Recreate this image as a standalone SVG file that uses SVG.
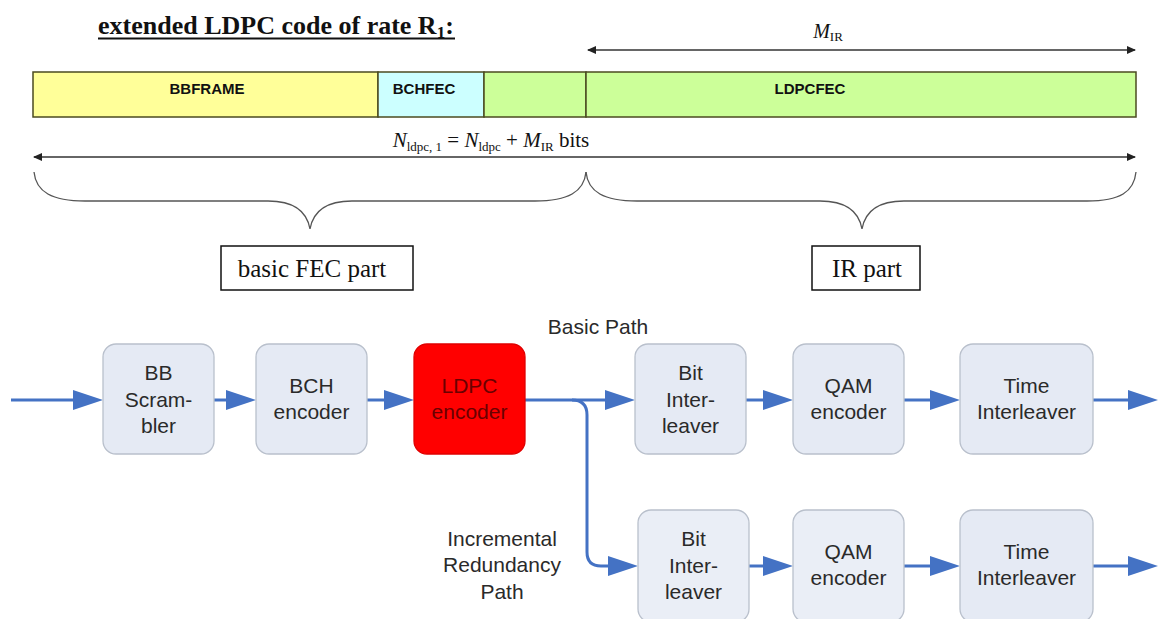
<svg xmlns="http://www.w3.org/2000/svg" width="1159" height="619" viewBox="0 0 1159 619">
<defs>
<style>
.serif{font-family:"Liberation Serif","Times New Roman",serif;fill:#111}
.seg{stroke:#4b4b20;stroke-width:1.5}
.barlbl{font-family:"Liberation Sans",Arial,sans-serif;font-weight:bold;font-size:15px;fill:#111;text-anchor:middle}
.dim{stroke:#333;stroke-width:1.5;fill:none}
.brace{stroke:#555;stroke-width:1.3;fill:none}
.part{fill:#fff;stroke:#111;stroke-width:1.5}
.box{fill:#E5EAF4;stroke:#B9C0CC;stroke-width:1.3}
.box2{fill:#EAEEF6;stroke:#B9C0CC;stroke-width:1.3}
.red{fill:#FF0000;stroke:#E00000;stroke-width:1.3}
.lbl{font-family:"Liberation Sans",Arial,sans-serif;font-size:21px;fill:#2a2a2a;text-anchor:middle}
.dark{fill:#6a0000}
.flow{stroke:#4472C4;stroke-width:3;fill:none}
</style>
<marker id="dimEnd" markerUnits="userSpaceOnUse" markerWidth="9" markerHeight="8" refX="8" refY="4" orient="auto">
<path d="M0,0 L9,4 L0,8 z" fill="#222"/>
</marker>
<marker id="dimStart" markerUnits="userSpaceOnUse" markerWidth="9" markerHeight="8" refX="1" refY="4" orient="auto">
<path d="M9,0 L0,4 L9,8 z" fill="#222"/>
</marker>
<marker id="ah" markerUnits="userSpaceOnUse" markerWidth="30" markerHeight="20" refX="10" refY="10" orient="auto">
<path d="M0,0 L30,10 L0,20 z" fill="#4472C4"/>
</marker>
</defs>
<rect width="1159" height="619" fill="#fff"/>

<g id="title">
<text class="serif" x="98" y="34" font-size="26" font-weight="bold">extended LDPC code of rate R<tspan font-size="17" dy="4">1</tspan><tspan dy="-4">:</tspan></text>
<line x1="98" y1="38.5" x2="455" y2="38.5" stroke="#111" stroke-width="2"/>
</g>

<g id="mir-label">
<text class="serif" x="828" y="38" font-size="20" text-anchor="middle"><tspan font-style="italic">M</tspan><tspan font-size="13" dy="3">IR</tspan></text>
</g>

<g id="bar">
<rect class="seg" x="33" y="72" width="345" height="45" fill="#FFFF99"/>
<rect class="seg" x="378" y="72" width="106" height="45" fill="#CCFFFF"/>
<rect class="seg" x="484" y="72" width="102" height="45" fill="#CCFF99"/>
<rect class="seg" x="586" y="72" width="550" height="45" fill="#CCFF99"/>
<text class="barlbl" x="207" y="94">BBFRAME</text>
<text class="barlbl" x="424" y="94">BCHFEC</text>
<text class="barlbl" x="810" y="94">LDPCFEC</text>
</g>

<g id="formula">
<text class="serif" x="491" y="147" font-size="21" text-anchor="middle"><tspan font-style="italic">N</tspan><tspan font-size="13" dy="4">ldpc, 1</tspan><tspan dy="-4"> = </tspan><tspan font-style="italic">N</tspan><tspan font-size="13" dy="4">ldpc</tspan><tspan dy="-4"> + </tspan><tspan font-style="italic">M</tspan><tspan font-size="13" dy="4">IR</tspan><tspan dy="-4"> bits</tspan></text>
</g>

<g id="dimensions">
<line class="dim" x1="588" y1="50" x2="1135" y2="50" marker-start="url(#dimStart)" marker-end="url(#dimEnd)"/>
<line class="dim" x1="34" y1="157" x2="1135" y2="157" marker-start="url(#dimStart)" marker-end="url(#dimEnd)"/>
</g>

<g id="braces">
<path class="brace" d="M34,172 C36,192 52,201 85,201 L268,201 C295,201 307,212 310,229 C313,212 325,201 352,201 L535,201 C568,201 584,192 586,172"/>
<path class="brace" d="M586,172 C588,192 604,201 637,201 L820,201 C847,201 859,212 862,229 C865,212 877,201 904,201 L1087,201 C1120,201 1134,192 1136,172"/>
</g>

<g id="basic-fec-part">
<rect class="part" x="221" y="246" width="192" height="44"/>
<text class="serif" x="312" y="277" font-size="25" text-anchor="middle">basic FEC part</text>
</g>
<g id="ir-part">
<rect class="part" x="812" y="246" width="108" height="44"/>
<text class="serif" x="867" y="277" font-size="25" text-anchor="middle">IR part</text>
</g>

<g id="basic-path-label">
<text class="lbl" x="598" y="334">Basic Path</text>
</g>
<g id="ir-path-label">
<text class="lbl" x="502" y="546">Incremental</text>
<text class="lbl" x="502" y="572">Redundancy</text>
<text class="lbl" x="502" y="599">Path</text>
</g>

<g id="connectors">
<line class="flow" x1="11" y1="400" x2="83" y2="400" marker-end="url(#ah)"/>
<line class="flow" x1="214" y1="400" x2="236" y2="400" marker-end="url(#ah)"/>
<line class="flow" x1="367" y1="400" x2="394" y2="400" marker-end="url(#ah)"/>
<line class="flow" x1="525" y1="400" x2="615" y2="400" marker-end="url(#ah)"/>
<line class="flow" x1="746" y1="400" x2="773" y2="400" marker-end="url(#ah)"/>
<line class="flow" x1="904" y1="400" x2="940" y2="400" marker-end="url(#ah)"/>
<line class="flow" x1="1093" y1="400" x2="1138" y2="400" marker-end="url(#ah)"/>
<path class="flow" d="M572,400 Q587,400 587,415 L587,552 Q587,566 601,566 L618,566" marker-end="url(#ah)"/>
<line class="flow" x1="749" y1="566" x2="773" y2="566" marker-end="url(#ah)"/>
<line class="flow" x1="904" y1="566" x2="940" y2="566" marker-end="url(#ah)"/>
<line class="flow" x1="1093" y1="566" x2="1138" y2="566" marker-end="url(#ah)"/>
</g>

<g id="bb-scrambler">
<rect class="box" x="103" y="344" width="111" height="110" rx="13"/>
<text class="lbl" x="158.5" y="380">BB</text>
<text class="lbl" x="158.5" y="407">Scram-</text>
<text class="lbl" x="158.5" y="433">bler</text>
</g>
<g id="bch-encoder">
<rect class="box" x="256" y="344" width="111" height="110" rx="13"/>
<text class="lbl" x="311.5" y="393">BCH</text>
<text class="lbl" x="311.5" y="419">encoder</text>
</g>
<g id="ldpc-encoder">
<rect class="red" x="414" y="344" width="111" height="110" rx="13"/>
<text class="lbl dark" x="469.5" y="393">LDPC</text>
<text class="lbl dark" x="469.5" y="419">encoder</text>
</g>
<g id="bit-interleaver-1">
<rect class="box" x="635" y="344" width="111" height="110" rx="13"/>
<text class="lbl" x="690.5" y="380">Bit</text>
<text class="lbl" x="690.5" y="407">Inter-</text>
<text class="lbl" x="690.5" y="433">leaver</text>
</g>
<g id="qam-encoder-1">
<rect class="box" x="793" y="344" width="111" height="110" rx="13"/>
<text class="lbl" x="848.5" y="393">QAM</text>
<text class="lbl" x="848.5" y="419">encoder</text>
</g>
<g id="time-interleaver-1">
<rect class="box" x="960" y="344" width="133" height="110" rx="13"/>
<text class="lbl" x="1026.5" y="393">Time</text>
<text class="lbl" x="1026.5" y="419">Interleaver</text>
</g>
<g id="bit-interleaver-2">
<rect class="box2" x="638" y="510" width="111" height="112" rx="13"/>
<text class="lbl" x="693.5" y="546">Bit</text>
<text class="lbl" x="693.5" y="573">Inter-</text>
<text class="lbl" x="693.5" y="599">leaver</text>
</g>
<g id="qam-encoder-2">
<rect class="box2" x="793" y="510" width="111" height="112" rx="13"/>
<text class="lbl" x="848.5" y="559">QAM</text>
<text class="lbl" x="848.5" y="585">encoder</text>
</g>
<g id="time-interleaver-2">
<rect class="box" x="960" y="510" width="133" height="112" rx="13"/>
<text class="lbl" x="1026.5" y="559">Time</text>
<text class="lbl" x="1026.5" y="585">Interleaver</text>
</g>
</svg>
